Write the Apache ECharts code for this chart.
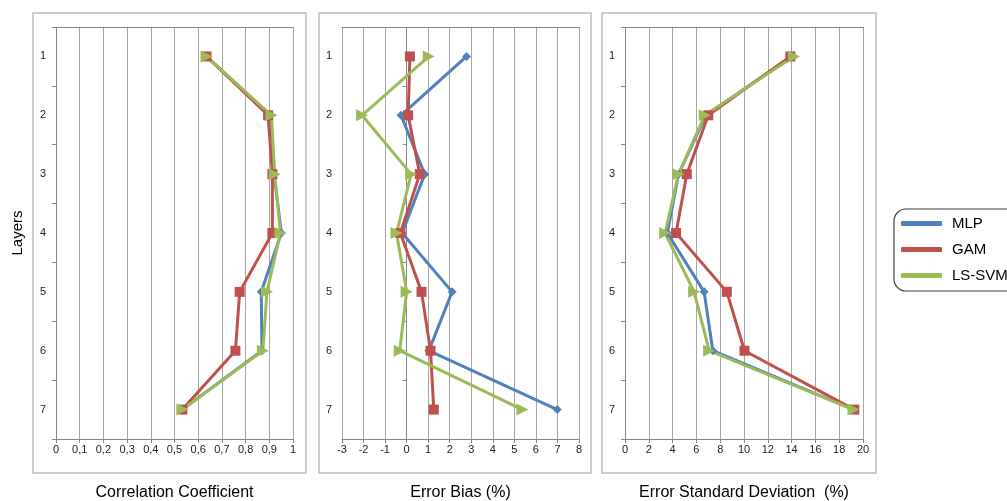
<!DOCTYPE html>
<html>
<head>
<meta charset="utf-8">
<script src="https://cdn.jsdelivr.net/npm/echarts@6/dist/echarts.min.js"></script>
<style>html,body{margin:0;padding:0;background:#fff;}#c{width:1007px;height:501px;}</style>
</head>
<body>
<div id="c"></div>
<script>
var layers = ['1','2','3','4','5','6','7'];
var seriesNames = ['MLP','GAM','LS-SVM'];
// Correlation coefficient
var ccMLP   = [0.635, 0.905, 0.92, 0.951, 0.866, 0.869, 0.533];
var ccGAM   = [0.635, 0.895, 0.913, 0.913, 0.775, 0.757, 0.533];
var ccLSSVM = [0.635, 0.909, 0.923, 0.947, 0.89, 0.873, 0.533];
// Error bias (%)
var ebMLP   = [2.78, -0.26, 0.84, -0.21, 2.11, 1.03, 6.99];
var ebGAM   = [0.15, 0.07, 0.61, -0.29, 0.69, 1.11, 1.26];
var ebLSSVM = [1.03, -2.07, 0.21, -0.47, 0.0, -0.32, 5.37];
// Error standard deviation (%)
var esMLP   = [14.0, 6.8, 4.5, 3.56, 6.65, 7.38, 19.2];
var esGAM   = [13.9, 7.0, 5.19, 4.29, 8.56, 10.04, 19.27];
var esLSSVM = [14.2, 6.7, 4.49, 3.37, 5.81, 7.07, 19.2];

var colors = ['#4F81BD', '#C0504D', '#9BBB59'];
var symbols = ['diamond', 'rect', 'triangle'];
var symbolSizes = [9, 10, 12];
var symbolRot = [0, 0, -90];
var font = 'Liberation Sans, Arial, sans-serif';

var panels = [
  {left: 56, width: 237, min: 0, max: 1, interval: 0.1, name: 'Correlation Coefficient',
   data: [ccMLP, ccGAM, ccLSSVM], fmt: function (v) { return String(+v.toFixed(1)).replace('.', ','); }},
  {left: 342, width: 237, min: -3, max: 8, interval: 1, name: 'Error Bias (%)',
   data: [ebMLP, ebGAM, ebLSSVM], fmt: function (v) { return String(v); }},
  {left: 625, width: 238, min: 0, max: 20, interval: 2, name: 'Error Standard Deviation  (%)',
   data: [esMLP, esGAM, esLSSVM], fmt: function (v) { return String(v); }}
];

var grid = [], xAxis = [], yAxis = [], series = [];
panels.forEach(function (p, i) {
  grid.push({left: p.left, width: p.width, top: 27, height: 412, containLabel: false, outerBoundsMode: 'none'});
  xAxis.push({
    type: 'value', gridIndex: i, min: p.min, max: p.max, interval: p.interval,
    position: 'bottom',
    axisLine: {show: true, onZero: false, lineStyle: {color: '#868686', width: 1}},
    axisTick: {show: true, length: 4, lineStyle: {color: '#868686'}},
    axisLabel: {formatter: p.fmt, color: '#1a1a2e', fontSize: 11, fontFamily: font, margin: 5},
    splitLine: {show: true, lineStyle: {color: '#a6a6a6', width: 1}},
    name: p.name, nameLocation: 'middle', nameGap: 46,
    nameTextStyle: {fontSize: 16, color: '#000', fontFamily: font}
  });
  xAxis.push({
    type: 'value', gridIndex: i, min: p.min, max: p.max, interval: p.interval,
    position: 'top',
    axisLine: {show: true, onZero: false, lineStyle: {color: '#868686', width: 1}},
    axisTick: {show: false}, axisLabel: {show: false}, splitLine: {show: false}
  });
  var yMain = {
    type: 'category', gridIndex: i, data: layers, inverse: true, boundaryGap: true,
    position: 'left',
    axisLine: {show: false, onZero: false},
    axisTick: {show: false},
    axisLabel: {color: '#1a1a2e', fontSize: 11, fontFamily: font, margin: 10},
    splitLine: {show: false}
  };
  if (i === 0) {
    yMain.name = 'Layers';
    yMain.nameLocation = 'middle';
    yMain.nameGap = 31;
    yMain.nameTextStyle = {fontSize: 15, color: '#000', fontFamily: font};
  }
  yAxis.push(yMain);
  yAxis.push({
    type: 'category', gridIndex: i, data: layers, inverse: true, boundaryGap: true,
    position: 'left',
    axisLine: {show: true, onZero: true, lineStyle: {color: '#868686', width: 1}},
    axisTick: {show: true, length: 4, inside: false, lineStyle: {color: '#868686'}},
    axisLabel: {show: false}, splitLine: {show: false}
  });
  p.data.forEach(function (arr, s) {
    series.push({
      name: seriesNames[s], type: 'line',
      xAxisIndex: i * 2, yAxisIndex: i * 2,
      data: arr.map(function (v, k) { return [v, layers[k]]; }),
      symbol: symbols[s], symbolSize: symbolSizes[s], symbolRotate: symbolRot[s],
      showAllSymbol: true,
      lineStyle: {color: colors[s], width: 3},
      itemStyle: {color: colors[s]},
      emphasis: {disabled: true},
      animation: false
    });
  });
});

var chart = echarts.init(document.getElementById('c'), null, {renderer: 'canvas'});
chart.setOption({
  backgroundColor: '#fff',
  animation: false,
  color: colors,
  grid: grid, xAxis: xAxis, yAxis: yAxis, series: series,
  legend: {
    data: seriesNames, orient: 'vertical', left: 894, top: 209,
    icon: 'roundRect', itemWidth: 41, itemHeight: 5, itemGap: 7,
    padding: [5, 40, 6, 7],
    borderColor: '#404040', borderWidth: 1.2, borderRadius: 12,
    textStyle: {fontSize: 15, color: '#000', fontFamily: font, lineHeight: 19, padding: [0, 0, 0, 5]},
    selectedMode: false
  },
  graphic: [
    {type: 'rect', shape: {x: 33, y: 13, width: 273, height: 460}, style: {fill: 'none', stroke: '#bdbdbd', lineWidth: 1.5}, z: -1},
    {type: 'rect', shape: {x: 319, y: 13, width: 272, height: 460}, style: {fill: 'none', stroke: '#bdbdbd', lineWidth: 1.5}, z: -1},
    {type: 'rect', shape: {x: 602, y: 13, width: 274, height: 460}, style: {fill: 'none', stroke: '#bdbdbd', lineWidth: 1.5}, z: -1}
  ]
});
</script>
</body>
</html>
